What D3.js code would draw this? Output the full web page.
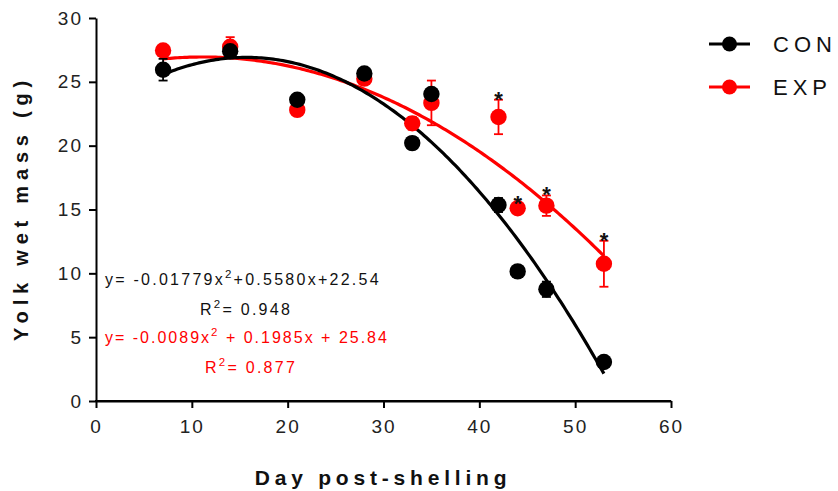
<!DOCTYPE html>
<html><head><meta charset="utf-8">
<script src="https://cdn.jsdelivr.net/npm/d3@7"></script>
<style>
html,body{margin:0;padding:0;background:#fff;}
svg{display:block;font-family:"Liberation Sans",Arial,sans-serif;}
</style></head>
<body>
<script>
// ---- data ----
const days = [7, 14, 21, 28, 33, 35, 42, 44, 47, 53];
const conMean = [25.95, 27.4, 23.6, 25.65, 20.2, 24.05, 15.35, 10.15, 8.75, 3.05];
const conErr  = [0.85, 0.3, 0.3, 0.3, 0.45, 0.3, 0.55, 0.2, 0.6, 0.35];
const expMean = [27.45, 27.75, 22.8, 25.25, 21.75, 23.35, 22.25, 15.1, 15.3, 10.75];
const expErr  = [0.3, 0.75, 0.3, 0.3, 0.5, 1.75, 1.35, 0.3, 0.8, 1.8];
const expSig  = [false, false, false, false, false, false, true, true, true, true];
const conFit = [-0.01779, 0.5580, 22.54];   // a, b, c
const expFit = [-0.0089, 0.1985, 25.84];
const xTicks = [0, 10, 20, 30, 40, 50, 60];
const yTicks = [0, 5, 10, 15, 20, 25, 30];
const seriesNames = ["CON", "EXP"];
const seriesColors = ["#000000", "#ff0000"];

const W = 838, H = 491;
const svg = d3.select("body").append("svg").attr("width", W).attr("height", H);

const x = d3.scaleLinear().domain([0, 60]).range([96, 671]);
const y = d3.scaleLinear().domain([0, 30]).range([401, 18]);

// axes
const xAxis = svg.append("g").attr("transform", `translate(0,${y(0)})`)
  .call(d3.axisBottom(x).tickValues(xTicks).tickSize(7).tickPadding(12).tickSizeOuter(0));
const yAxis = svg.append("g").attr("transform", `translate(${x(0)},0)`)
  .call(d3.axisLeft(y).tickValues(yTicks).tickSize(7).tickPadding(6).tickSizeOuter(0));
[xAxis, yAxis].forEach(g => {
  g.select(".domain").attr("stroke", "#000").attr("stroke-width", 2);
  g.selectAll(".tick line").attr("stroke", "#000").attr("stroke-width", 2);
  g.selectAll(".tick text").attr("fill", "#222").attr("font-size", 19)
    .attr("font-family", "Liberation Sans, Arial, sans-serif").attr("letter-spacing", 2);
});
svg.append("line").attr("x1", x(0) - 1).attr("x2", x(60)).attr("y1", y(0)).attr("y2", y(0))
  .attr("stroke", "#000").attr("stroke-width", 2);

// axis titles
svg.append("text").attr("x", 383).attr("y", 485).attr("text-anchor", "middle")
  .attr("font-weight", "bold").attr("font-size", 21).attr("letter-spacing", 4.8)
  .attr("fill", "#111").text("Day post-shelling");
svg.append("text").attr("transform", `translate(28,208) rotate(-90)`).attr("text-anchor", "middle")
  .attr("font-weight", "bold").attr("font-size", 20).attr("letter-spacing", 5.8)
  .attr("fill", "#111").text("Yolk wet mass (g)");

// fitted curves
function fitLine(c) {
  const xs = d3.range(days[0], days[days.length - 1] + 0.001, 0.25);
  return d3.line().x(d => x(d)).y(d => y(c[0] * d * d + c[1] * d + c[2]))(xs);
}
svg.append("path").attr("d", fitLine(expFit)).attr("fill", "none")
  .attr("stroke", seriesColors[1]).attr("stroke-width", 3.2);
svg.append("path").attr("d", fitLine(conFit)).attr("fill", "none")
  .attr("stroke", seriesColors[0]).attr("stroke-width", 3.2);

// points + error bars
function drawSeries(means, errs, color) {
  const g = svg.append("g");
  days.forEach((d, i) => {
    const cx = x(d), t = y(means[i] + errs[i]), b = y(means[i] - errs[i]);
    g.append("line").attr("x1", cx).attr("x2", cx).attr("y1", t).attr("y2", b)
      .attr("stroke", color).attr("stroke-width", 1.8);
    [t, b].forEach(yy => g.append("line").attr("x1", cx - 4.5).attr("x2", cx + 4.5)
      .attr("y1", yy).attr("y2", yy).attr("stroke", color).attr("stroke-width", 1.8));
    g.append("circle").attr("cx", cx).attr("cy", y(means[i])).attr("r", 8.2).attr("fill", color);
  });
}
drawSeries(expMean, expErr, seriesColors[1]);
drawSeries(conMean, conErr, seriesColors[0]);

// significance stars
days.forEach((d, i) => {
  if (!expSig[i]) return;
  const top = y(expMean[i] + expErr[i]);
  svg.append("text").attr("x", x(d)).attr("y", top + 7).attr("text-anchor", "middle")
    .attr("font-size", 22).attr("font-weight", "bold").attr("fill", "#111").text("*");
});

// equations
function eq(xPos, yPos, color, parts, ls) {
  const t = svg.append("text").attr("x", xPos).attr("y", yPos).attr("fill", color)
    .attr("font-size", 16).attr("letter-spacing", ls);
  parts.forEach(p => {
    if (p.sup) t.append("tspan").attr("dy", -7).attr("font-size", 11.5).text(p.s);
    else t.append("tspan").attr("dy", p.after ? 7 : 0).text(p.s);
  });
}
eq(105, 285, "#111", [{s: "y= -0.01779x"}, {s: "2", sup: true}, {s: "+0.5580x+22.54", after: true}], 2.25);
eq(200, 315, "#111", [{s: "R"}, {s: "2", sup: true}, {s: "= 0.948", after: true}], 2.25);
eq(105, 343, "#ff0000", [{s: "y= -0.0089x"}, {s: "2", sup: true}, {s: " + 0.1985x + 25.84", after: true}], 2.0);
eq(205, 373, "#ff0000", [{s: "R"}, {s: "2", sup: true}, {s: "= 0.877", after: true}], 2.25);

// legend
seriesNames.forEach((n, i) => {
  const ly = 44 + i * 43;
  svg.append("line").attr("x1", 709).attr("x2", 750).attr("y1", ly).attr("y2", ly)
    .attr("stroke", seriesColors[i]).attr("stroke-width", 3.2);
  svg.append("circle").attr("cx", 729.5).attr("cy", ly).attr("r", 7.5).attr("fill", seriesColors[i]);
  svg.append("text").attr("x", 773).attr("y", ly + 8).attr("font-size", 22)
    .attr("letter-spacing", 5).attr("fill", "#111").text(n);
});
</script>
</body></html>
